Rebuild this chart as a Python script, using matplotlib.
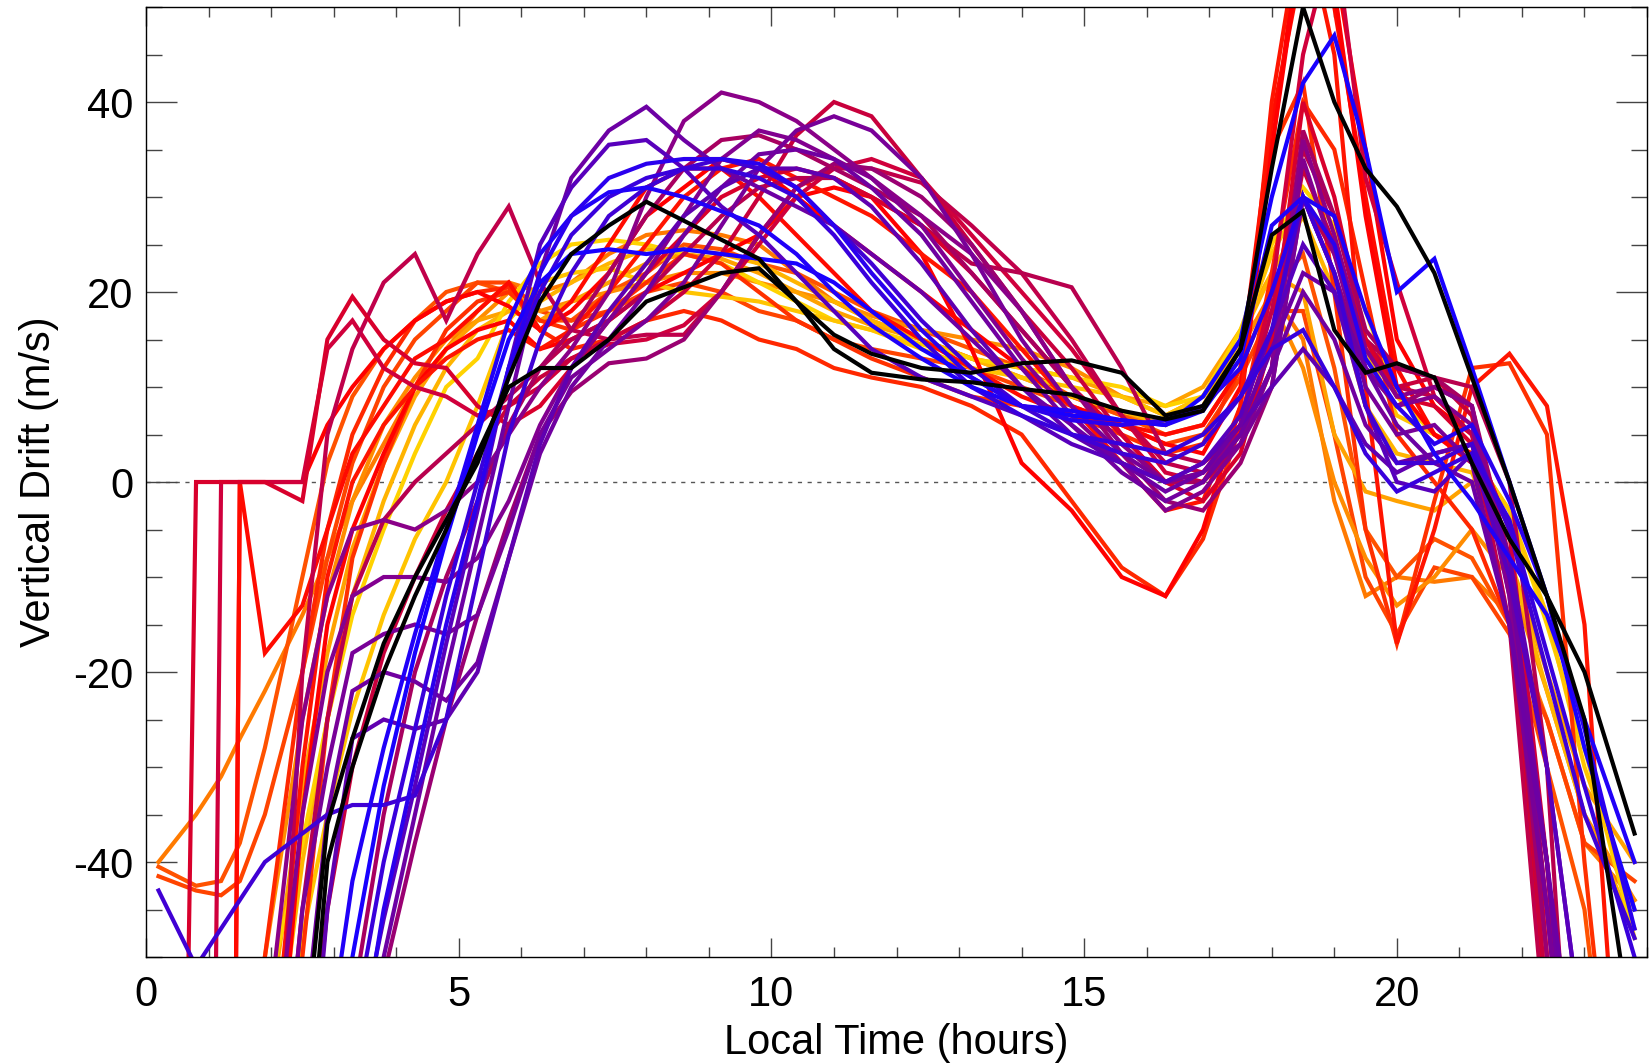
#!/usr/bin/env python3
"""Vertical drift vs local time: one coloured line per sample, black reference curves."""
import matplotlib

matplotlib.use("Agg")
import matplotlib.pyplot as plt
from matplotlib.ticker import MultipleLocator

plt.rcParams["font.family"] = ["Liberation Sans", "DejaVu Sans"]
plt.rcParams["axes.unicode_minus"] = False

# local time grid (hours) shared by every curve
LOCAL_TIME = [0.2, 0.8, 1.2, 1.5, 1.9, 2.5, 2.9, 3.3, 3.8, 4.3, 4.8,
              5.3, 5.8, 6.3, 6.8, 7.4, 8.0, 8.6, 9.2, 9.8, 10.4, 11.0,
              11.6, 12.4, 13.2, 14.0, 14.8, 15.6, 16.3, 16.9, 17.5,
              18.0, 18.5, 19.0, 19.5, 20.0, 20.6, 21.2, 21.8, 22.4, 23.0, 23.8]

# vertical drift (m/s), values under the axis are estimated from the slopes
black_a = [-95, -95, -95, -95, -95, -62, -36, -27, -17, -10, -4,
           2, 11, 19, 24, 27, 29.5, 27.5, 25.5, 23.5, 19, 14,
           11.5, 10.8, 10.5, 9.8, 9.2, 7.5, 6.6, 7.5, 14,
           33, 50, 40, 33, 29, 22, 11, 0, -12, -25, -60]
black_b = [-95, -95, -95, -95, -95, -70, -40, -30, -20, -12, -5,
           3, 10, 12, 12, 15, 19, 20.5, 22, 22.5, 19, 15.5,
           13.5, 12, 11.5, 12.5, 12.8, 11.5, 7, 8, 14,
           26, 28.5, 16, 11.5, 12.5, 11, 2, -6, -12, -20, -37]
blue_1 = [-95, -95, -95, -95, -95, -95, -80, -50, -32, -18, -6,
          5, 15, 21, 24, 24.5, 24, 24.5, 24, 23.5, 23, 21,
          18, 14, 11, 8, 7, 6.5, 6, 9, 15,
          30, 42, 47, 35, 20, 23.5, 12, 0, -12, -28, -45]
blue_2 = [-95, -95, -95, -95, -95, -95, -60, -42, -28, -16, -5,
          6, 17, 24, 28, 30.5, 31, 30, 28.5, 27, 24, 20,
          16.5, 13, 10, 8, 7.5, 6.5, 6, 7.5, 13,
          27, 30, 28, 18, 10, 3, -2, -8, -14, -25, -40]
blue_3 = [-95, -95, -95, -95, -95, -95, -95, -65, -45, -30, -15,
          -2, 12, 22, 28, 32, 33.5, 34, 34, 33.5, 31, 27,
          22, 16, 11, 8, 6.5, 6, 6.5, 8, 12,
          20, 30, 25, 13, 8, 4, 6, -2, -12, -26, -47]
blue_violet_1 = [-43, -51, -47, -44, -40, -37, -35, -34, -34, -33, -25,
                 -10, 5, 15, 22, 28, 31, 33, 34, 33, 31, 27,
                 23, 17, 12, 8, 5, 3, 2, 4, 9,
                 16, 30, 22, 8, 2, 2, 4, -5, -20, -35, -48]
blue_violet_2 = [-95, -95, -95, -95, -95, -95, -90, -58, -40, -26, -12,
                 0, 12, 20, 26, 30, 32, 33, 33, 32, 30, 26,
                 21, 15, 10, 7, 5, 4, 3, 5, 9,
                 14, 16, 10, 3, -1, 1, 3, -4, -18, -32, -50]
indigo_1 = [-95, -95, -95, -95, -95, -95, -95, -62, -46, -32, -17,
            -3, 12, 25, 31, 35.5, 36, 33, 29, 26, 22, 18,
            14, 11, 9, 7, 4, 2, 0, 2, 7,
            16, 25, 20, 8, 0, -1, 3, -10, -30, -60, -90]
violet_1 = [-95, -95, -95, -95, -95, -95, -95, -70, -50, -35, -20,
            -6, 8, 22, 32, 37, 39.5, 36, 33, 31, 29, 27,
            24, 20, 15, 10, 6, 2, -1, 1, 6,
            14, 22, 20, 12, 6, 2, 0, -15, -40, -70, -90]
purple_25 = [-95, -95, -95, -95, -95, -75, -45, -27, -25, -26, -25,
             -20, -8, 4, 12, 18, 23, 28, 31, 33, 33, 32,
             29, 23, 16, 10, 5, 2, 0, 2, 6,
             10, 14, 10, 4, 1, 3, 4, -8, -30, -60, -90]
purple_20 = [-95, -95, -95, -95, -95, -60, -35, -22, -20, -21, -23,
             -19, -8, 3, 10, 15, 20, 26, 31, 34.5, 35, 34,
             31, 26, 19, 12, 6, 1, -2, 0, 5,
             12, 20, 15, 6, 2, 3, 4, -10, -40, -80, -90]
purple_15 = [-95, -95, -95, -95, -85, -45, -30, -18, -16, -15, -16,
             -14, -5, 5, 11, 14, 17, 21, 27, 33, 37, 38.5,
             37, 32, 24, 15, 8, 3, 0, 1, 4,
             10, 30, 22, 10, 5, 6, 2, -15, -45, -80, -90]
purple_10 = [-95, -95, -95, -95, -70, -35, -20, -12, -10, -10, -10.5,
             -8, -2, 6, 12, 17, 22, 28, 34, 37, 36, 34,
             32, 27, 20, 13, 7, 2, -3, -1, 4,
             12, 34, 24, 12, 8, 9, 6, -12, -45, -85, -90]
purple_4 = [-95, -95, -95, -95, -60, -25, -12, -5, -4, -5, -3,
            0, 5, 10, 14, 20, 30, 38, 41, 40, 38, 35,
            32, 28, 24, 18, 10, 4, 0, 1, 5,
            12, 36, 26, 14, 9, 10, 8, -10, -40, -80, -90]
magenta_1 = [-95, -95, -95, -95, -95, -95, -95, -72, -52, -38, -25,
             -14, -4, 5, 9.5, 12.5, 13, 15, 20, 26, 31, 33.5,
             33, 30, 25, 18, 10, 3, -2, -3, 2,
             10, 30, 22, 12, 8, 10, 8, -12, -50, -90, -90]
magenta_2 = [-95, -95, -95, -95, -95, -95, -80, -55, -35, -20, -10,
             -2, 6, 12, 16, 22, 28, 33, 36, 36.5, 35, 33,
             31, 28, 22, 16, 10, 4, 0, 0, 4,
             12, 37, 28, 16, 12, 11, 8, -8, -45, -85, -90]
crimson_1 = [-250, -250, 0, 0, 0, 0, 14, 17, 12, 10, 9,
             7, 8, 10, 13, 14.5, 15, 16.5, 20, 25, 30, 33,
             34, 32, 26, 20, 14, 7, 1, 0, 6,
             20, 45, 58, 32, 21, 9, 5, -5, -40, -90, -90]
crimson_2 = [-95, -95, -95, -95, -90, -20, 5, 14, 21, 24, 17,
             24, 29, 21, 16, 15, 15.5, 15.5, 20, 26, 31, 33,
             33, 31.5, 27, 22, 15, 7, 2, 1, 6,
             18, 35, 28, 15, 10, 9, 5, -15, -60, -90, -90]
crimson_3 = [-95, -95, -95, -95, -95, -70, -45, -30, -18, -10, -3,
             3, 8, 11, 13, 15, 17, 20, 24, 30, 36.5, 40,
             38.5, 32, 25, 18, 12, 5, 0, 0, 5,
             15, 33, 25, 14, 10, 11, 7, -10, -55, -90, -90]
crimson_4 = [-95, -95, -95, -95, -85, -45, -25, -12, -4, 0, 3,
             6, 9, 12, 15, 17, 20, 24, 28, 31, 32, 32,
             30, 27, 23, 22, 20.5, 12, 3, 2, 5,
             15, 30, 24, 15, 12, 11, 10, 0, -30, -90, -90]
crimson_5 = [-250, 0, 0, 0, 0, -2, 15, 19.5, 15, 12.5, 12,
             8, 6, 8, 12, 17, 22, 26, 30, 32, 33, 32,
             30, 27, 22, 16, 10, 5, 0, -2, 3,
             15, 40, 30, 15, 9, 8, 4, -10, -50, -90, -90]
red_1 = [-95, -250, -250, 0, 0, 0, 6, 10, 14, 17, 19,
         20, 18.5, 16, 18, 22, 28, 31, 34, 33, 30, 27,
         24, 20, 16, 12, 8, 6, 4, 3, 10,
         35, 60, 55, 35, 15, 8, 5, -5, -50, -90, -90]
red_2 = [-95, -95, -250, 0, -18, -13, -5, 3, 8, 13, 15,
         18, 21, 16, 19, 25, 31, 33, 33, 30, 26, 22,
         18, 15, 12, 9, 7, 6, 5, 6, 12,
         38, 55, 50, 30, 12, 5, 3, -8, -60, -90, -90]
red_3 = [-95, -95, -95, -95, -80, -35, -15, -5, 3, 10, 14,
         16, 17, 14, 15, 17, 20, 22, 24, 26, 30, 31,
         30, 24, 14, 2, -3, -10, -12, -5, 8,
         35, 58, 52, 28, 10, 5, 2, -10, -60, -90, -90]
red_4 = [-95, -95, -95, -95, -70, -30, -10, 0, 6, 10, 13,
         15, 16, 14, 16, 20, 25, 30, 33, 34, 32, 30,
         28, 24, 20, 14, 8, 2, -3, -2, 8,
         40, 60, 45, 10, -17, -5, 10, 13.5, 8, -15, -90]
red_orange_1 = [-95, -95, -95, -90, -50, -20, -5, 5, 12, 17, 19,
                20, 20.5, 16, 14, 15, 17, 18, 17, 15, 14, 12,
                11, 10, 8, 5, -2, -9, -12, -6, 6,
                22, 40, 35, 20, 5, 0, -5, -15, -40, -80, -90]
red_orange_2 = [-95, -95, -95, -95, -95, -50, -25, -8, 2, 10, 16,
                19, 20, 17, 16, 18, 21, 24, 23, 20, 17, 15,
                13, 11, 9, 8, 7, 5, 3, 4, 12,
                35, 42, 20, -5, -17, -2, 12, 12.5, 5, -40, -90]
orange_red_1 = [-40.5, -42.5, -42, -38, -28, -10, 2, 9, 14, 17, 20,
                21, 20, 17, 17, 20, 22, 25, 24.5, 23, 22, 20,
                18, 16, 14, 12, 9, 7, 5, 6, 12,
                20, 24, 12, -5, -10, -6, -8, -15, -30, -45, -90]
orange_red_2 = [-41.5, -43, -43.5, -42, -35, -20, -8, 2, 10, 15, 18,
                21, 21, 18, 17, 18, 20, 21, 20, 18, 17, 15,
                14, 13, 12, 10, 8, 6, 4, 5, 11,
                18, 18, 5, -10, -16, -9, -10, -16, -25, -38, -42]
orange_1 = [-40, -35, -31, -27, -22, -14, -8, -2, 4, 10, 14,
            18, 21, 20, 21, 24, 26, 26.5, 26, 25, 22, 19,
            17, 15, 13, 11, 9, 7, 6, 8, 14,
            20, 15, -2, -12, -10, -10.5, -10, -14, -25, -38, -44]
orange_2 = [-95, -95, -95, -80, -50, -25, -12, -2, 6, 11, 15,
            17, 20, 18, 19, 20, 21, 22, 22, 21, 20, 19,
            17.5, 16, 15, 14, 12, 9, 7, 9, 15,
            19, 12, 0, -8, -13, -10, -5, -10, -22, -35, -44]
amber_1 = [-95, -95, -95, -90, -60, -32, -18, -7, 2, 9, 14,
           17, 18, 17, 19, 21, 23, 24, 23.5, 22, 20, 18,
           16.5, 15, 13, 12, 11, 9, 8, 10, 16,
           22, 20, 5, -1, -2, -3, 0, -8, -20, -32, -40]
amber_2 = [-95, -95, -95, -95, -70, -40, -25, -12, -2, 6, 12,
           16, 18, 19, 21, 23, 24.5, 24.5, 24, 23, 21, 19,
           17, 15, 13, 11, 9, 7.5, 6, 8, 15,
           22, 28, 20, 8, 3, 2, 1, -8, -22, -35, -47]
gold_1 = [-95, -95, -95, -90, -55, -38, -25, -14, -5, 3, 10,
          13, 19, 23, 25, 25.5, 25, 24, 23, 21, 19, 17,
          16, 14.5, 13, 12, 11, 10, 8, 9, 16,
          25, 31, 27, 18, 9, 5, 3, -3, -15, -28, -48]
gold_2 = [-95, -95, -95, -95, -70, -48, -35, -24, -14, -6, 0,
          8, 17, 21, 22, 22.5, 21, 20, 19.5, 19, 18, 17,
          16, 14, 12, 11, 10, 9, 7, 9, 15,
          24, 30, 25, 14, 7, 5, 3, -3, -14, -30, -45]

CURVES = [orange_1, orange_red_1, orange_red_2, orange_2, amber_1, amber_2,
          gold_1, gold_2, red_orange_1, red_orange_2, red_1, red_2, red_3,
          red_4, crimson_1, crimson_2, crimson_3, crimson_4, crimson_5,
          magenta_1, magenta_2, purple_4, purple_10, purple_15, purple_20,
          purple_25, violet_1, indigo_1, blue_violet_1, blue_violet_2,
          blue_1, blue_2, blue_3, black_a, black_b]
CURVE_COLORS = ["#ff7a00", "#ff5200", "#ff4400", "#ff8c00", "#ffa200", "#ffb400",
                "#ffd200", "#ffc400", "#ff2800", "#ff3000", "#ff0000", "#ff0a00", "#ff0000",
                "#ff1400", "#d0003c", "#c0004a", "#c8003c", "#b8004e", "#d8002c",
                "#9a0072", "#a80060", "#8a0088", "#820090", "#780098", "#7000a0",
                "#6000b0", "#6c00a4", "#5800bc", "#4000d4", "#3800dc",
                "#1800ff", "#2000f8", "#2a00ee", "#000000", "#000000"]


def main() -> None:
    fig = plt.figure(figsize=(16.5, 10.63), dpi=100)
    ax = fig.add_axes([0.0885, 0.0997, 0.9097, 0.8937])

    for values, color in zip(CURVES, CURVE_COLORS):
        ax.plot(LOCAL_TIME, values, color=color, linewidth=3.0, solid_joinstyle="miter")

    ax.axhline(0, color="#555555", linewidth=1.0, linestyle=(0, (3, 4)), zorder=0)

    ax.set_xlim(0, 24)
    ax.set_ylim(-50, 50)
    ax.xaxis.set_major_locator(MultipleLocator(5))
    ax.xaxis.set_minor_locator(MultipleLocator(1))
    ax.yaxis.set_major_locator(MultipleLocator(20))
    ax.yaxis.set_minor_locator(MultipleLocator(5))

    ax.tick_params(axis="both", which="both", direction="in", top=True, right=True,
                   colors="#444444", labelcolor="black", width=1.0, labelsize=30)
    ax.tick_params(axis="x", which="major", length=14, pad=13)
    ax.tick_params(axis="x", which="minor", length=7)
    ax.tick_params(axis="y", which="major", length=22, pad=9)
    ax.tick_params(axis="y", which="minor", length=11.5)
    for spine in ax.spines.values():
        spine.set_linewidth(1.0)

    ax.set_xlabel("Local Time (hours)", fontsize=30, labelpad=6)
    ax.set_ylabel("Vertical Drift (m/s)", fontsize=30, labelpad=10)

    fig.savefig("out.png", dpi=100)


if __name__ == "__main__":
    main()
